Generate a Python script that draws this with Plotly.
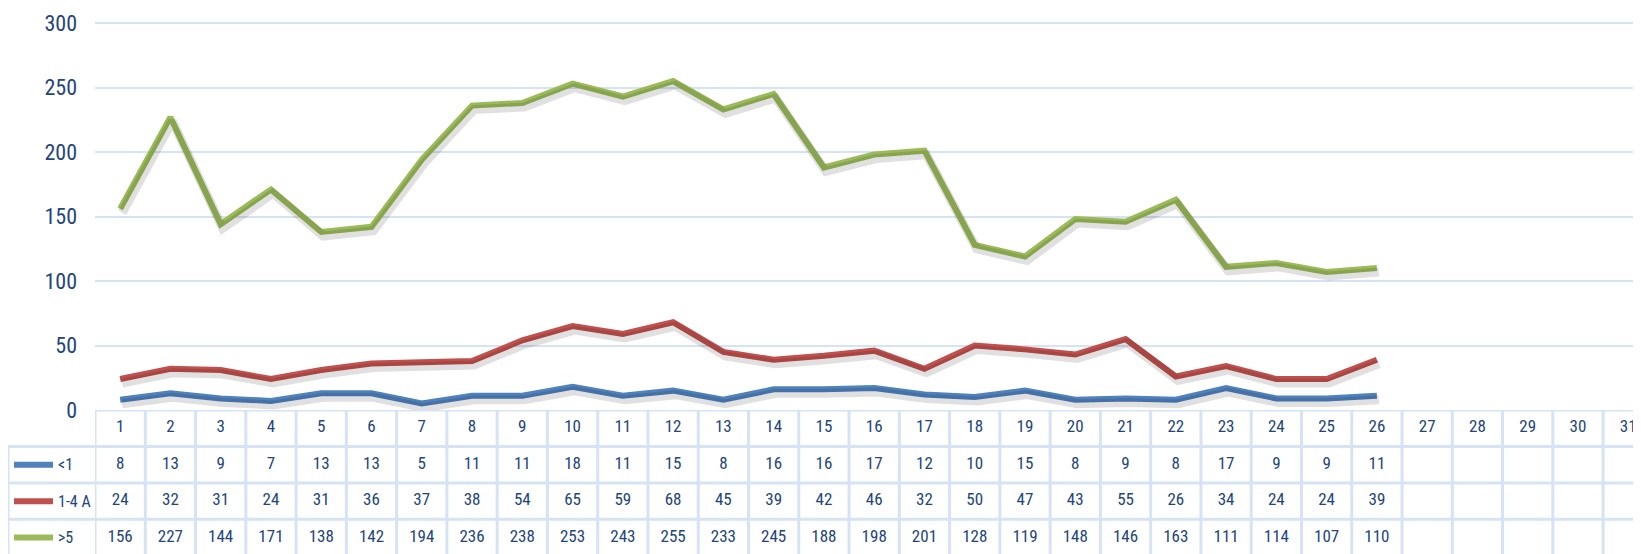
import plotly.graph_objects as go

days = list(range(1, 32))
series_names = ["<1", "1-4 A", ">5"]
lt1 = [8, 13, 9, 7, 13, 13, 5, 11, 11, 18, 11, 15, 8, 16, 16, 17, 12, 10, 15, 8, 9, 8, 17, 9, 9, 11]
a14 = [24, 32, 31, 24, 31, 36, 37, 38, 54, 65, 59, 68, 45, 39, 42, 46, 32, 50, 47, 43, 55, 26, 34, 24, 24, 39]
gt5 = [156, 227, 144, 171, 138, 142, 194, 236, 238, 253, 243, 255, 233, 245, 188, 198, 201, 128, 119, 148, 146, 163, 111, 114, 107, 110]
y_ticks = [0, 50, 100, 150, 200, 250, 300]
colors = ["#4F81BD", "#C0504D", "#9BBB59"]

# page body has an 8px margin; size the figure so it fills the window exactly
OFF = 8
WIN_W, WIN_H = 1641, 554
W, H = WIN_W - OFF, WIN_H - OFF
FONT = "Liberation Sans Narrow, Roboto Condensed, DejaVu Sans Condensed, Arial Narrow, sans-serif"
TXT = "#23457A"
GRID = "#D6E3F4"

# target positions in window pixels, converted to figure pixels
y_max = 302
px_per_unit = (410 - 23) / 300
plot_left = 95 - OFF
plot_bottom = 410 - OFF
plot_top = plot_bottom - y_max * px_per_unit
label_left = 7 - OFF + 1
col_w = 50.27
x_max = 0.5 + (W - plot_left) / col_w

y_bot = 1 - plot_bottom / H
y_top = 1 - plot_top / H

fig = go.Figure()
all_series = [lt1, a14, gt5]
shadow_shift = 4 / px_per_unit
for vals in all_series:
    n = len(vals)
    fig.add_trace(go.Scatter(x=days[:n], y=vals, mode="lines", xaxis="x3", yaxis="y3",
                             line=dict(color="rgba(0,0,0,0.12)", width=9), hoverinfo="skip",
                             showlegend=False))
for name, vals, c in zip(series_names, all_series, colors):
    n = len(vals)
    fig.add_trace(go.Scatter(x=days[:n], y=vals, mode="lines", name=name,
                             line=dict(color=c, width=6), showlegend=False))

# table texts
rows_text = [[str(d) for d in days]] + [[str(v) for v in s] for s in all_series]
for r, texts in enumerate(rows_text):
    fig.add_trace(go.Scatter(x=days[:len(texts)], y=[r + 0.5] * len(texts), text=texts,
                             mode="text", xaxis="x2", yaxis="y2", cliponaxis=False,
                             textfont=dict(family=FONT, size=17, color=TXT),
                             hoverinfo="skip", showlegend=False))

shapes = []
nrows = 4
row_range = 3.95
# horizontal table lines
for r in range(nrows):
    x0 = plot_left / W if r == 0 else label_left / W
    shapes.append(dict(type="line", xref="paper", yref="y2", x0=x0, x1=1, y0=r, y1=r,
                       line=dict(color=GRID, width=3), layer="below"))
# vertical table lines
for k in range(len(days) + 1):
    shapes.append(dict(type="line", xref="x2", yref="y2", x0=k + 0.5, x1=k + 0.5, y0=0, y1=row_range,
                       line=dict(color=GRID, width=3), layer="below"))
shapes.append(dict(type="line", xref="paper", yref="y2", x0=label_left / W, x1=label_left / W,
                   y0=1, y1=row_range, line=dict(color=GRID, width=3), layer="below"))

annotations = []
for r, (name, c) in enumerate(zip(series_names, colors)):
    yc = r + 1.5
    shapes.append(dict(type="line", xref="paper", yref="y2", x0=(14 - OFF) / W, x1=(53 - OFF) / W,
                       y0=yc, y1=yc, line=dict(color=c, width=6)))
    annotations.append(dict(xref="paper", yref="y2", x=(56 - OFF) / W, y=yc, text=name, showarrow=False,
                            xanchor="left", yanchor="middle",
                            font=dict(family=FONT, size=16, color=TXT)))

fig.update_layout(
    width=W, height=H,
    margin=dict(l=0, r=0, t=0, b=0, autoexpand=False),
    paper_bgcolor="white", plot_bgcolor="white",
    shapes=shapes, annotations=annotations,
    xaxis=dict(domain=[plot_left / W, 1], range=[0.5, x_max], showgrid=False, zeroline=False,
               showticklabels=False, anchor="y", automargin=False),
    yaxis=dict(domain=[y_bot, y_top], range=[0, y_max], tickvals=y_ticks, showgrid=True,
               gridcolor=GRID, gridwidth=2, zeroline=False, ticks="", automargin=False,
               tickfont=dict(family=FONT, size=22, color=TXT), ticklabelstandoff=17, anchor="x"),
    xaxis2=dict(domain=[plot_left / W, 1], range=[0.5, x_max], showgrid=False, zeroline=False,
                showticklabels=False, anchor="y2", automargin=False),
    yaxis2=dict(domain=[0, y_bot], range=[row_range, 0], showgrid=False, zeroline=False,
                showticklabels=False, anchor="x2", automargin=False),
    xaxis3=dict(domain=[plot_left / W, 1], range=[0.5 - 0.04, x_max - 0.04], visible=False,
                overlaying="x", anchor="y3", automargin=False),
    yaxis3=dict(domain=[y_bot, y_top], range=[shadow_shift, y_max + shadow_shift], visible=False,
                overlaying="y", anchor="x3", automargin=False),
)

fig.write_html("out.html")
